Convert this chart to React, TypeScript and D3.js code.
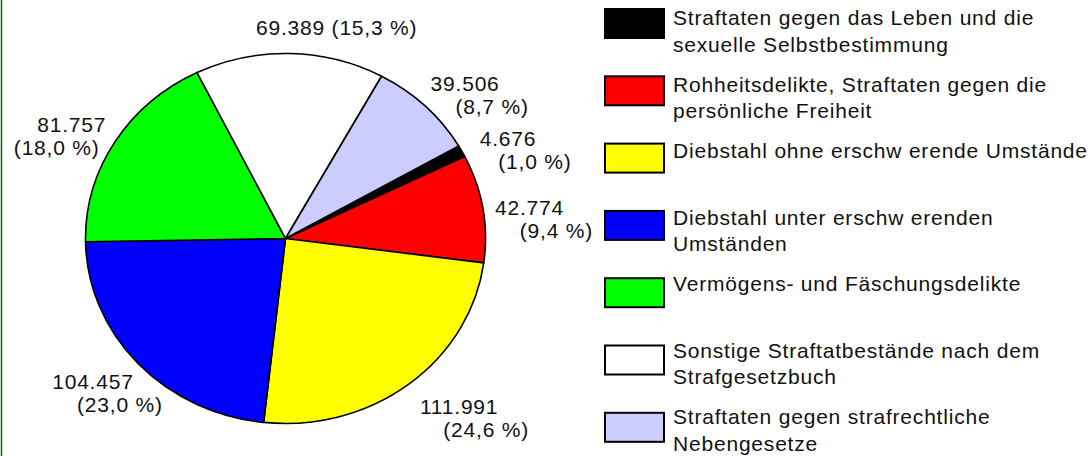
import React from "react";
import * as d3 from "d3";

const categories: string[][] = [
  ["Straftaten gegen das Leben und die", "sexuelle Selbstbestimmung"],
  ["Rohheitsdelikte, Straftaten gegen die", "persönliche Freiheit"],
  ["Diebstahl ohne erschw erende Umstände"],
  ["Diebstahl unter erschw erenden", "Umständen"],
  ["Vermögens- und Fäschungsdelikte"],
  ["Sonstige Straftatbestände nach dem", "Strafgesetzbuch"],
  ["Straftaten gegen strafrechtliche", "Nebengesetze"],
];
const values: number[] = [4676, 42774, 111991, 104457, 81757, 69389, 39506];
const colors: string[] = ["#000000", "#ff0000", "#ffff00", "#0000ff", "#00ff00", "#ffffff", "#ccccff"];

const W = 1090;
const H = 456;
const FS = 21;
const LS = 0.8;
const FONT = '"Liberation Sans", Arial, sans-serif';
const cx = 285.5;
const cy = 238.5;
const rx = 200;
const ry = 185;

const loc = d3.formatLocale({ decimal: ",", thousands: ".", grouping: [3], currency: ["", "€"] });
const fmtN = loc.format(",d");
const fmtP = loc.format(".1f");

let ctx: CanvasRenderingContext2D | null = null;
function tw(s: string): number {
  if (!ctx && typeof document !== "undefined") {
    ctx = document.createElement("canvas").getContext("2d");
  }
  const extra = (s.length - 1) * LS;
  if (ctx) {
    ctx.font = `${FS}px ${FONT}`;
    return ctx.measureText(s).width + extra;
  }
  return s.length * FS * 0.55 + extra;
}

export default function App() {
  const total = d3.sum(values);
  const pie = d3
    .pie<number>()
    .sort(null)
    .value((d) => d)
    .startAngle(Math.PI / 3)
    .endAngle(Math.PI / 3 + 2 * Math.PI);
  const arcs = pie(values);
  const arcGen = d3.arc<d3.PieArcDatum<number>>().innerRadius(0).outerRadius(rx);

  const labels = arcs.map((a, i) => {
    const v = values[i];
    const l1 = fmtN(v);
    const l2 = `(${fmtP((v / total) * 100)} %)`;
    const mid = (a.startAngle + a.endAngle) / 2;
    const m = ((mid % (2 * Math.PI)) + 2 * Math.PI) % (2 * Math.PI);
    const s = Math.sin(m);
    const c = Math.cos(m);
    const w1 = tw(l1);
    const w2 = tw(l2);
    if (Math.abs(c) > 0.95) {
      const px = rx * 1.06 * s;
      const py = -ry * 1.06 * c;
      return (
        <text key={i} x={cx + px - w1 / 2} y={cy + py - 11 + 4} fontSize={FS} fill="#111" letterSpacing={LS}>
          {`${l1} ${l2}`}
        </text>
      );
    }
    const lowerRight = m > Math.PI / 2 && m < Math.PI;
    const d = m + ((m < Math.PI / 2 ? 5 : lowerRight ? -3 : -4) * Math.PI) / 180;
    const rf = lowerRight ? 1.18 : 1.06;
    const px = rx * rf * Math.sin(d);
    const py = -ry * rf * Math.cos(d);
    const w = w2 + 24;
    const h = 41;
    const lx = cx + px + (s * w) / 2 + (m > Math.PI ? 9 : 0);
    const ly = cy + py - (c * h) / 2;
    const leftUpper = m > (3 * Math.PI) / 2;
    const o1 = leftUpper ? 12 : -15;
    const o2 = leftUpper ? -3 : 12;
    return (
      <g key={i} fill="#111" fontSize={FS} textAnchor="middle" letterSpacing={LS}>
        <text x={lx + o1} y={ly - 5.5}>{l1}</text>
        <text x={lx + o2} y={ly + 17.5}>{l2}</text>
      </g>
    );
  });

  return (
    <svg
      width={W}
      height={H}
      style={{ position: "absolute", left: 0, top: 0, display: "block", background: "#fff" }}
      fontFamily={FONT}
    >
      <rect x={0} y={0} width={W} height={H} fill="#ffffff" />
      <line x1={1.5} y1={0} x2={1.5} y2={H} stroke="#006400" strokeWidth={1.5} />
      <g transform={`translate(${cx},${cy}) scale(1,${ry / rx})`}>
        {arcs.map((a, i) => (
          <path
            key={i}
            d={arcGen(a) || ""}
            fill={colors[i]}
            stroke="#000"
            strokeWidth={1.6}
            strokeLinejoin="round"
            vectorEffect="non-scaling-stroke"
          />
        ))}
      </g>
      {labels}
      {categories.map((lines, i) => (
        <g key={i}>
          <rect x={605} y={9 + i * 67.3} width={59} height={29} fill={colors[i]} stroke="#000" strokeWidth={2} />
          {lines.map((t, j) => (
            <text key={j} x={673} y={25 + i * 66.5 + j * 26.5} fontSize={FS} fill="#111" letterSpacing={LS}>
              {t}
            </text>
          ))}
        </g>
      ))}
    </svg>
  );
}
